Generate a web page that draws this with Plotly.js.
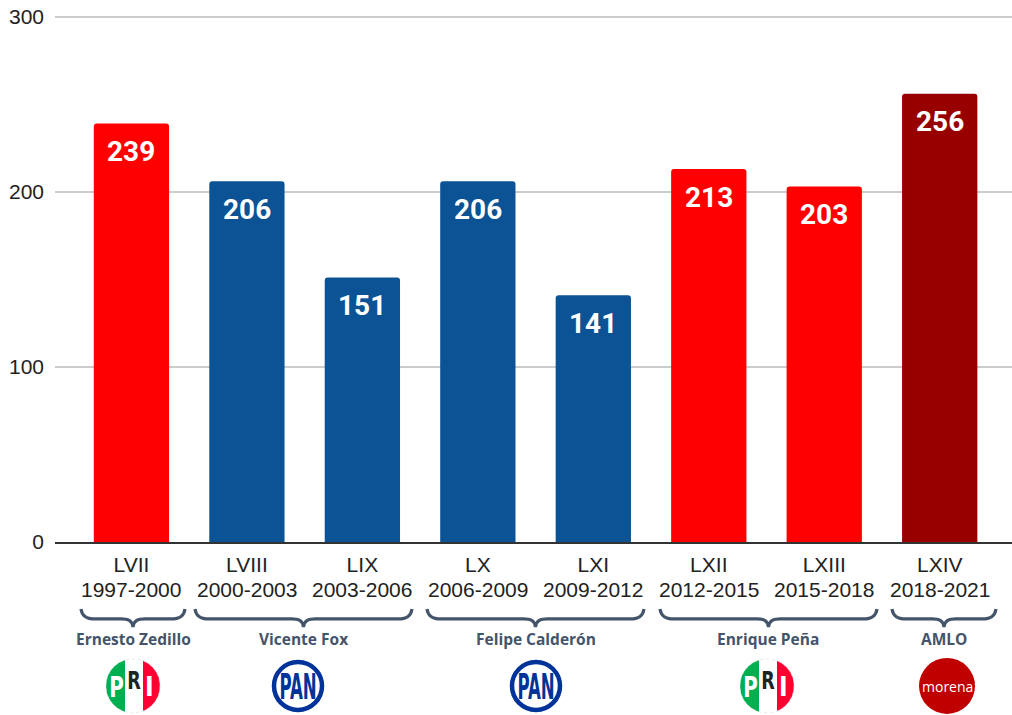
<!DOCTYPE html>
<html><head><meta charset="utf-8">
<script src="https://cdn.plot.ly/plotly-3.0.1.min.js"></script>
<style>html,body{margin:0;padding:0;background:#fff}#c{width:1012px;height:715px}</style></head>
<body><div id="c"></div>
<script>
const legislatures = ['LVII','LVIII','LIX','LX','LXI','LXII','LXIII','LXIV'];
const periods = ['1997-2000','2000-2003','2003-2006','2006-2009','2009-2012','2012-2015','2015-2018','2018-2021'];
const values = [239,206,151,206,141,213,203,256];
const barColors = ['#ff0000','#0b5394','#0b5394','#0b5394','#0b5394','#ff0000','#ff0000','#980000'];
const presidents = ['Ernesto Zedillo','Vicente Fox','Felipe Calderón','Enrique Peña','AMLO'];
const presidentCenters = [133,303,536,768,944];
const presidentSpans = [[81,185],[195,412],[427,644],[660,877],[892,996]];
const logos = ['PRI','PAN','PAN','PRI','morena'];
const logoCenters = [133,298,536,767,947];

const W=1012,H=715,L=55,T=14.75,B=173;
const px=x=>(x-L)/(W-L), py=y=>(H-B-y)/(H-B-T);
const X=(x)=>px(x).toFixed(5), Y=(y)=>py(y).toFixed(5);
const idx=legislatures.map((_,i)=>i);
const shapes=[],ann=[];
const pshape=(path,o)=>shapes.push(Object.assign({type:'path',xref:'paper',yref:'paper',path,layer:'above'},o));
const pt=(x,y)=>`${X(x)},${Y(y)}`;

idx.forEach(i=>{
  ann.push({x:i,y:values[i],xref:'x',yref:'y',yshift:-28,xanchor:'center',yanchor:'middle',text:'<b>'+values[i]+'</b>',showarrow:false,
    font:{family:'Roboto',size:28,color:'#ffffff'}});
  ann.push({x:i,y:0,xref:'x',yref:'y',yshift:-47,xanchor:'center',yanchor:'middle',text:periods[i],showarrow:false,
    font:{family:'Liberation Sans',size:21,color:'#222222'}});
});
presidents.forEach((n,k)=>{
  ann.push({xref:'paper',yref:'paper',x:px(presidentCenters[k]),y:py(639),xanchor:'center',yanchor:'middle',text:'<b>'+n+'</b>',showarrow:false,
    font:{family:'Open Sans',size:15.5,color:'#44546a'}});
  const [a,b]=presidentSpans[k],c=(a+b)/2,t=609,m=619,e=627;
  pshape(`M${pt(a,t)} C${pt(a+1,m-3)} ${pt(a+5,m)} ${pt(a+14,m)} L${pt(c-12,m)} C${pt(c-5,m)} ${pt(c-1,m+1)} ${pt(c,e)} C${pt(c+1,m+1)} ${pt(c+5,m)} ${pt(c+12,m)} L${pt(b-14,m)} C${pt(b-5,m)} ${pt(b-1,m-3)} ${pt(b,t)}`,
    {line:{color:'#44546a',width:3.2},fillcolor:'rgba(0,0,0,0)'});
});
function circle(cx,cy,r,o){shapes.push(Object.assign({type:'circle',xref:'paper',yref:'paper',x0:px(cx-r),x1:px(cx+r),y0:py(cy+r),y1:py(cy-r),layer:'above'},o));}
function chord(cx,cy,r,x0,x1,color){
  const h=x=>Math.sqrt(Math.max(0,r*r-(x-cx)*(x-cx)));
  let d=`M${pt(x0,cy-h(x0))}`;
  for(let s=1;s<=24;s++){const x=x0+(x1-x0)*s/24;d+=` L${pt(x,cy-h(x))}`;}
  for(let s=24;s>=0;s--){const x=x0+(x1-x0)*s/24;d+=` L${pt(x,cy+h(x))}`;}
  pshape(d+' Z',{line:{width:0},fillcolor:color});
}
function label(cx,cy,text,size,color,family,plain){
  ann.push({xref:'paper',yref:'paper',x:px(cx),y:py(cy),xanchor:'center',yanchor:'middle',text:plain?text:'<b>'+text+'</b>',showarrow:false,
    font:{family:family||'DejaVu Sans Condensed',size,color}});
}
logos.forEach((l,k)=>{
  const cx=logoCenters[k],cy=686;
  if(l==='PRI'){
    chord(cx,cy,27,cx-27,cx-8,'#00b050');
    chord(cx,cy,27,cx-8,cx+10,'#ffffff');
    chord(cx,cy,27,cx+10,cx+27,'#ff0033');
    circle(cx,cy,27,{line:{color:'#d9d9d9',width:0.6,dash:'dot'},fillcolor:'rgba(0,0,0,0)'});
    label(cx-17,687,'P',26,'#ffffff');
    label(cx+0.5,680,'R',23,'#222222');
    label(cx+16.5,687,'I',26,'#ffffff');
  } else if(l==='PAN'){
    circle(cx,cy,24,{line:{color:'#003399',width:4.5},fillcolor:'#ffffff'});
    label(cx,686,'PAN',19,'#003399');
  } else {
    circle(cx,cy,28,{line:{width:0},fillcolor:'#c00000'});
    label(cx,686.5,'morena',14,'#ffffff','Open Sans',true);
  }
});

const stretch={PAN:[0.97,1.85],P:[0.85,1.1],R:[0.85,1.1]};
Plotly.newPlot('c',[{type:'bar',x:idx,y:values,width:0.652,marker:{color:barColors,line:{width:0},cornerradius:3},hoverinfo:'skip'}],{
  width:W,height:H,margin:{l:L,r:0,t:T,b:B,pad:0},paper_bgcolor:'#fff',plot_bgcolor:'#fff',showlegend:false,
  xaxis:{range:[-0.662,7.626],tickmode:'array',tickvals:idx,ticktext:legislatures,showgrid:false,zeroline:false,showline:true,linecolor:'#333333',linewidth:2,ticks:'',
    tickfont:{family:'Liberation Sans',size:21,color:'#222222'},ticklabelstandoff:3},
  yaxis:{range:[0,301],tickvals:[0,100,200,300],showgrid:true,gridcolor:'#cccccc',gridwidth:2,zeroline:false,showline:false,ticks:'',
    tickfont:{family:'Liberation Sans',size:21,color:'#222222'},ticklabelstandoff:10},
  annotations:ann,shapes
},{displayModeBar:false,staticPlot:true}).then(()=>{
  // condensed, tall lettering like the party logos
  document.querySelectorAll('.annotation-text').forEach(t=>{
    const s=stretch[t.textContent];
    if(!s)return;
    const b=t.getBBox(),cx=b.x+b.width/2,cy=b.y+b.height/2;
    t.setAttribute('transform',`translate(${cx},${cy}) scale(${s[0]},${s[1]}) translate(${-cx},${-cy})`);
  });
});
</script></body></html>
